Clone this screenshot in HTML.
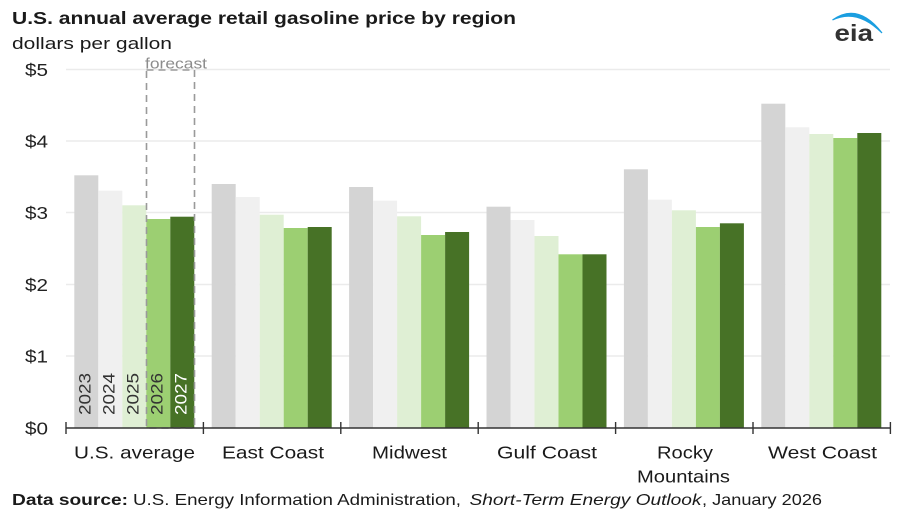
<!DOCTYPE html>
<html>
<head>
<meta charset="utf-8">
<style>
  html,body{margin:0;padding:0;background:#fff;}
  svg{display:block;}
  text{font-family:"Liberation Sans", Arial, sans-serif;}
</style>
</head>
<body>
<svg width="900" height="517" viewBox="0 0 900 517" xmlns="http://www.w3.org/2000/svg">
  <rect x="0" y="0" width="900" height="517" fill="#fff"/>

  <!-- Title -->
  <text x="12" y="24" font-size="17.5" font-weight="bold" fill="#1a1a1a" textLength="504" lengthAdjust="spacingAndGlyphs">U.S. annual average retail gasoline price by region</text>
  <text x="12" y="49" font-size="16.5" fill="#1a1a1a" textLength="160" lengthAdjust="spacingAndGlyphs">dollars per gallon</text>

  <!-- eia logo -->
  <path d="M832.5,20 Q858,2 882,33 Q857,8 832.5,20 Z" fill="#1a9ee0" stroke="#1a9ee0" stroke-width="1.2"/>
  <text x="834.5" y="41" font-size="23" font-weight="bold" fill="#333" textLength="38.5" lengthAdjust="spacingAndGlyphs">eia</text>

  <!-- gridlines -->
  <g stroke="#ebebeb" stroke-width="1.5">
    <line x1="66" y1="69.5" x2="890" y2="69.5"/>
    <line x1="66" y1="141" x2="890" y2="141"/>
    <line x1="66" y1="212.5" x2="890" y2="212.5"/>
    <line x1="66" y1="284.5" x2="890" y2="284.5"/>
    <line x1="66" y1="356" x2="890" y2="356"/>
  </g>

  <!-- y labels -->
  <g font-size="17.5" fill="#222">
    <text x="25" y="76" textLength="23" lengthAdjust="spacingAndGlyphs">$5</text>
    <text x="25" y="147.5" textLength="23" lengthAdjust="spacingAndGlyphs">$4</text>
    <text x="25" y="219" textLength="23" lengthAdjust="spacingAndGlyphs">$3</text>
    <text x="25" y="291" textLength="23" lengthAdjust="spacingAndGlyphs">$2</text>
    <text x="25" y="362.5" textLength="23" lengthAdjust="spacingAndGlyphs">$1</text>
    <text x="25" y="434.5" textLength="23" lengthAdjust="spacingAndGlyphs">$0</text>
  </g>

  <!-- bars -->
  <g>
    <!-- U.S. average -->
    <rect x="74.3" y="175.3" width="24" height="252.7" fill="#d4d4d4"/>
    <rect x="98.3" y="190.7" width="24" height="237.3" fill="#f0f0f0"/>
    <rect x="122.3" y="205.3" width="24" height="222.7" fill="#dfefd4"/>
    <rect x="146.3" y="219" width="24" height="209" fill="#9ccf72"/>
    <rect x="170.3" y="216.7" width="24" height="211.3" fill="#477226"/>
    <!-- East Coast -->
    <rect x="211.7" y="184" width="24" height="244" fill="#d4d4d4"/>
    <rect x="235.7" y="197" width="24" height="231" fill="#f0f0f0"/>
    <rect x="259.7" y="214.7" width="24" height="213.3" fill="#dfefd4"/>
    <rect x="283.7" y="228" width="24" height="200" fill="#9ccf72"/>
    <rect x="307.7" y="227" width="24" height="201" fill="#477226"/>
    <!-- Midwest -->
    <rect x="349.1" y="187" width="24" height="241" fill="#d4d4d4"/>
    <rect x="373.1" y="200.7" width="24" height="227.3" fill="#f0f0f0"/>
    <rect x="397.1" y="216.3" width="24" height="211.7" fill="#dfefd4"/>
    <rect x="421.1" y="235" width="24" height="193" fill="#9ccf72"/>
    <rect x="445.1" y="232" width="24" height="196" fill="#477226"/>
    <!-- Gulf Coast -->
    <rect x="486.5" y="206.7" width="24" height="221.3" fill="#d4d4d4"/>
    <rect x="510.5" y="220" width="24" height="208" fill="#f0f0f0"/>
    <rect x="534.5" y="236" width="24" height="192" fill="#dfefd4"/>
    <rect x="558.5" y="254.3" width="24" height="173.7" fill="#9ccf72"/>
    <rect x="582.5" y="254.3" width="24" height="173.7" fill="#477226"/>
    <!-- Rocky Mountains -->
    <rect x="623.9" y="169.3" width="24" height="258.7" fill="#d4d4d4"/>
    <rect x="647.9" y="199.7" width="24" height="228.3" fill="#f0f0f0"/>
    <rect x="671.9" y="210.3" width="24" height="217.7" fill="#dfefd4"/>
    <rect x="695.9" y="227" width="24" height="201" fill="#9ccf72"/>
    <rect x="719.9" y="223.3" width="24" height="204.7" fill="#477226"/>
    <!-- West Coast -->
    <rect x="761.3" y="103.7" width="24" height="324.3" fill="#d4d4d4"/>
    <rect x="785.3" y="127.3" width="24" height="300.7" fill="#f0f0f0"/>
    <rect x="809.3" y="134" width="24" height="294" fill="#dfefd4"/>
    <rect x="833.3" y="138" width="24" height="290" fill="#9ccf72"/>
    <rect x="857.3" y="133" width="24" height="295" fill="#477226"/>
  </g>

  <!-- year labels in bars -->
  <g font-size="16.5">
    <text transform="translate(90.5,415) rotate(-90)" fill="#333" textLength="42" lengthAdjust="spacingAndGlyphs">2023</text>
    <text transform="translate(114.5,415) rotate(-90)" fill="#333" textLength="42" lengthAdjust="spacingAndGlyphs">2024</text>
    <text transform="translate(138.5,415) rotate(-90)" fill="#333" textLength="42" lengthAdjust="spacingAndGlyphs">2025</text>
    <text transform="translate(162.5,415) rotate(-90)" fill="#333" textLength="42" lengthAdjust="spacingAndGlyphs">2026</text>
    <text transform="translate(186.5,415) rotate(-90)" fill="#fff" textLength="42" lengthAdjust="spacingAndGlyphs">2027</text>
  </g>

  <!-- forecast box -->
  <rect x="146.5" y="70" width="48" height="358" fill="none" stroke="#9a9a9a" stroke-width="1.6" stroke-dasharray="7,5"/>
  <text x="145" y="68.5" font-size="15" fill="#8c8c8c" textLength="62" lengthAdjust="spacingAndGlyphs">forecast</text>

  <!-- x axis -->
  <line x1="66" y1="428" x2="891" y2="428" stroke="#333" stroke-width="1.6"/>
  <g stroke="#333" stroke-width="1.4">
    <line x1="66" y1="422" x2="66" y2="434"/>
    <line x1="203.4" y1="422" x2="203.4" y2="434"/>
    <line x1="340.8" y1="422" x2="340.8" y2="434"/>
    <line x1="478.2" y1="422" x2="478.2" y2="434"/>
    <line x1="615.6" y1="422" x2="615.6" y2="434"/>
    <line x1="753" y1="422" x2="753" y2="434"/>
    <line x1="890.4" y1="422" x2="890.4" y2="434"/>
  </g>

  <!-- category labels -->
  <g font-size="17.5" fill="#1a1a1a">
    <text x="74" y="458.5" textLength="121" lengthAdjust="spacingAndGlyphs">U.S. average</text>
    <text x="222" y="458.5" textLength="102" lengthAdjust="spacingAndGlyphs">East Coast</text>
    <text x="372" y="458.5" textLength="75" lengthAdjust="spacingAndGlyphs">Midwest</text>
    <text x="497" y="458.5" textLength="100" lengthAdjust="spacingAndGlyphs">Gulf Coast</text>
    <text x="657" y="458.5" textLength="56" lengthAdjust="spacingAndGlyphs">Rocky</text>
    <text x="637" y="482.3" textLength="93" lengthAdjust="spacingAndGlyphs">Mountains</text>
    <text x="768" y="458.5" textLength="109" lengthAdjust="spacingAndGlyphs">West Coast</text>
  </g>

  <!-- source -->
  <g font-size="16" fill="#1a1a1a">
    <text x="12" y="505" font-weight="bold" textLength="116" lengthAdjust="spacingAndGlyphs">Data source:</text>
    <text x="133" y="505" textLength="328" lengthAdjust="spacingAndGlyphs">U.S. Energy Information Administration,</text>
    <text x="469.5" y="505" font-style="italic" textLength="232" lengthAdjust="spacingAndGlyphs">Short-Term Energy Outlook</text>
    <text x="702" y="505" textLength="120" lengthAdjust="spacingAndGlyphs">, January 2026</text>
  </g>
</svg>
</body>
</html>
